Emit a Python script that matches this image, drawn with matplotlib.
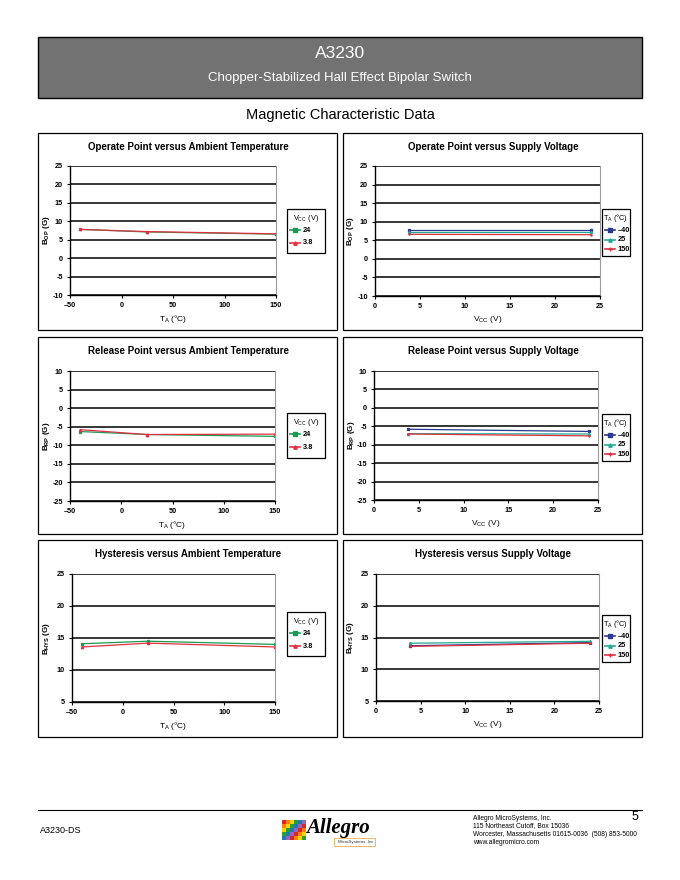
import numpy as np
import matplotlib
matplotlib.use("Agg")
import matplotlib.pyplot as plt
from matplotlib.patches import Rectangle
from matplotlib.lines import Line2D

plt.rcParams["font.family"] = ["Liberation Sans", "DejaVu Sans"]
plt.rcParams["mathtext.fontset"] = "custom"
plt.rcParams["mathtext.rm"] = "Liberation Sans"
plt.rcParams["mathtext.bf"] = "Liberation Sans:bold"

# --- data ---
temp = [-40, 25, 150]
vcc = [3.8, 24]

bop_temp_24 = [7.8, 7.1, 6.5]
bop_temp_38 = [7.8, 7.2, 6.6]
bop_vcc_m40 = [7.8, 7.8]
bop_vcc_25 = [7.1, 7.1]
bop_vcc_150 = [6.6, 6.5]

brp_temp_24 = [-6.3, -7.1, -7.6]
brp_temp_38 = [-5.8, -7.1, -7.0]
brp_vcc_m40 = [-5.8, -6.4]
brp_vcc_25 = [-7.0, -7.1]
brp_vcc_150 = [-7.1, -7.6]

bhys_temp_24 = [14.1, 14.5, 14.0]
bhys_temp_38 = [13.6, 14.2, 13.6]
bhys_vcc_m40 = [13.7, 14.2]
bhys_vcc_25 = [14.1, 14.4]
bhys_vcc_150 = [13.6, 14.1]

temp_ticks = [-50, 0, 50, 100, 150]
temp_labels = ["\u201350", "0", "50", "100", "150"]
vcc_ticks = [0, 5, 10, 15, 20, 25]

GREEN = "#1a9a55"
RED = "#e0303f"
BLUE = "#2b3a8c"
TEAL = "#22a894"

W, H = 680, 880
fig = plt.figure(figsize=(W / 100, H / 100), dpi=100)


def fx(x):
    return x / W


def fy(y):
    return 1 - y / H


def box(x0, y0, x1, y1, **kw):
    fig.patches.append(Rectangle((fx(x0), fy(y1)), fx(x1) - fx(x0), fy(y0) - fy(y1),
                                 transform=fig.transFigure, **kw))


# header
box(38, 37, 642, 98, facecolor="#727272", edgecolor="black", linewidth=1.0)
fig.text(fx(340), fy(53), "A3230", color="white", fontsize=12.5, ha="center", va="center")
fig.text(fx(340), fy(78), "Chopper-Stabilized Hall Effect Bipolar Switch", color="white",
         fontsize=9.5, ha="center", va="center")
fig.text(fx(340), fy(115), "Magnetic Characteristic Data", fontsize=10.5, ha="center", va="center")


def panel(bx, by, plot_box, leg_box, title, xs, series, ylim, yticks, xticks, xticklabels,
          xlim, ylabel, xlabel, leg_title):
    # outer frame, kept behind the axes
    box(bx, by, bx + 299, by + 197, facecolor="white", edgecolor="black", linewidth=0.9,
        zorder=-1)
    x0, y0, x1, y1 = plot_box
    ax = fig.add_axes([fx(x0), fy(y1), fx(x1) - fx(x0), fy(y0) - fy(y1)])
    for ys, color, marker, ms, lab in series:
        ax.plot(xs, ys, color=color, marker=marker, markersize=ms, linewidth=0.9, label=lab)
    ax.set_xlim(*xlim)
    ax.set_ylim(*ylim)
    ax.set_yticks(yticks)
    ax.set_yticklabels([str(t) for t in yticks])
    ax.set_xticks(xticks)
    ax.set_xticklabels(xticklabels)
    for t in yticks:
        ax.axhline(t, color="black", linewidth=1.1, zorder=0)
    ax.spines["right"].set_color("#9a9a9a")
    ax.spines["top"].set_visible(False)
    ax.spines["left"].set_linewidth(1.0)
    ax.spines["bottom"].set_linewidth(1.0)
    ax.tick_params(labelsize=5.2, length=2.5, width=0.8, pad=2.5)
    for lbl in ax.get_xticklabels() + ax.get_yticklabels():
        lbl.set_fontweight("bold")
    ax.set_ylabel(ylabel, fontsize=5.8, fontweight="bold", va="center")
    ax.yaxis.set_label_coords((bx + 8 - x0) / (x1 - x0), 0.5)
    ax.set_xlabel(xlabel, fontsize=6, labelpad=3)
    fig.text(fx(bx + 150), fy(by + 14), title, fontsize=7, fontweight="bold",
             ha="center", va="center")
    lx0, ly0, lx1, ly1 = leg_box
    box(lx0, ly0, lx1, ly1, facecolor="white", edgecolor="black", linewidth=0.9)
    fig.text(fx((lx0 + lx1) / 2), fy(ly0 + 9), leg_title, fontsize=5.3, ha="center", va="center")
    n = len(series)
    step = (ly1 - ly0 - 18) / n
    for i, (ys, color, marker, ms, lab) in enumerate(series):
        yy = ly0 + 21 + i * step
        fig.lines.append(Line2D([fx(lx0 + 3), fx(lx0 + 13)], [fy(yy), fy(yy)], color=color,
                                linewidth=1.2, transform=fig.transFigure))
        fig.lines.append(Line2D([fx(lx0 + 8)], [fy(yy)], color=color, marker=marker,
                                markersize=ms + 0.8, transform=fig.transFigure))
        fig.text(fx(lx0 + 16), fy(yy), lab, fontsize=5.3, fontweight="bold", va="center")
    return ax


vcc_title_t = "V$_{\\mathregular{CC}}$ (V)"
ta_title = "T$_{\\mathregular{A}}$ (\u00b0C)"

# row 1
panel(38, 133, (70, 166, 276, 295), (287, 209, 325, 253),
      "Operate Point versus Ambient Temperature", temp,
      [(bop_temp_24, GREEN, "s", 1.4, "24"), (bop_temp_38, RED, "^", 1.6, "3.8")],
      (-10, 25), list(range(-10, 26, 5)), temp_ticks, temp_labels, (-50, 150),
      "B$_{\\mathregular{OP}}$ (G)", ta_title, vcc_title_t)
panel(343, 133, (375, 166, 600, 296), (602, 209, 630, 256),
      "Operate Point versus Supply Voltage", vcc,
      [(bop_vcc_m40, BLUE, "s", 1.4, "\u201340"), (bop_vcc_25, TEAL, "^", 1.6, "25"),
       (bop_vcc_150, RED, "+", 2, "150")],
      (-10, 25), list(range(-10, 26, 5)), vcc_ticks, [str(t) for t in vcc_ticks], (0, 25),
      "B$_{\\mathregular{OP}}$ (G)", "V$_{\\mathregular{CC}}$ (V)", ta_title)

# row 2
panel(38, 337, (70, 371, 275, 501), (287, 413, 325, 458),
      "Release Point versus Ambient Temperature", temp,
      [(brp_temp_24, GREEN, "s", 1.4, "24"), (brp_temp_38, RED, "^", 1.6, "3.8")],
      (-25, 10), list(range(-25, 11, 5)), temp_ticks, temp_labels, (-50, 150),
      "B$_{\\mathregular{RP}}$ (G)", ta_title, vcc_title_t)
panel(343, 337, (374, 371, 598, 500), (602, 414, 630, 461),
      "Release Point versus Supply Voltage", vcc,
      [(brp_vcc_m40, BLUE, "s", 1.4, "\u201340"), (brp_vcc_25, TEAL, "^", 1.6, "25"),
       (brp_vcc_150, RED, "+", 2, "150")],
      (-25, 10), list(range(-25, 11, 5)), vcc_ticks, [str(t) for t in vcc_ticks], (0, 25),
      "B$_{\\mathregular{RP}}$ (G)", "V$_{\\mathregular{CC}}$ (V)", ta_title)

# row 3
panel(38, 540, (72, 574, 275, 702), (287, 612, 325, 656),
      "Hysteresis versus Ambient Temperature", temp,
      [(bhys_temp_24, GREEN, "s", 1.4, "24"), (bhys_temp_38, RED, "^", 1.6, "3.8")],
      (5, 25), list(range(5, 26, 5)), temp_ticks, temp_labels, (-50, 150),
      "B$_{\\mathregular{HYS}}$ (G)", ta_title, vcc_title_t)
panel(343, 540, (376, 574, 599, 701), (602, 615, 630, 662),
      "Hysteresis versus Supply Voltage", vcc,
      [(bhys_vcc_m40, BLUE, "s", 1.4, "\u201340"), (bhys_vcc_25, TEAL, "^", 1.6, "25"),
       (bhys_vcc_150, RED, "+", 2, "150")],
      (5, 25), list(range(5, 26, 5)), vcc_ticks, [str(t) for t in vcc_ticks], (0, 25),
      "B$_{\\mathregular{HYS}}$ (G)", "V$_{\\mathregular{CC}}$ (V)", ta_title)

# footer
fig.lines.append(Line2D([fx(38), fx(642)], [fy(810), fy(810)], color="black", linewidth=0.8,
                        transform=fig.transFigure))
fig.text(fx(40), fy(830), "A3230-DS", fontsize=6.5, va="center")
fig.text(fx(638), fy(817), "5", fontsize=9, ha="right", va="center")
addr = ["Allegro MicroSystems, Inc.", "115 Northeast Cutoff, Box 15036",
        "Worcester, Massachusetts 01615-0036  (508) 853-5000", "www.allegromicro.com"]
for i, line in enumerate(addr):
    fig.text(fx(473), fy(818 + i * 8), line, fontsize=4.8, va="center")

# logo (rough)
logo_colors = ["#d62728", "#ff7f0e", "#f2d600", "#2ca02c", "#1f77b4", "#9467bd"]
for i in range(6):
    for j in range(5):
        box(282 + i * 4, 820 + j * 4, 285.5 + i * 4, 823.5 + j * 4,
            facecolor=logo_colors[(i + j) % 6], edgecolor="none")
fig.text(fx(306), fy(828), "Allegro", fontsize=15, fontstyle="italic", fontweight="bold",
         family="Liberation Serif", va="center", color="black")
fig.text(fx(338), fy(842), "MicroSystems, Inc.", fontsize=3.2, va="center", color="#333333")
box(334, 838, 375, 846, facecolor="none", edgecolor="#e8a020", linewidth=0.5)

fig.savefig("out.png", dpi=100)
